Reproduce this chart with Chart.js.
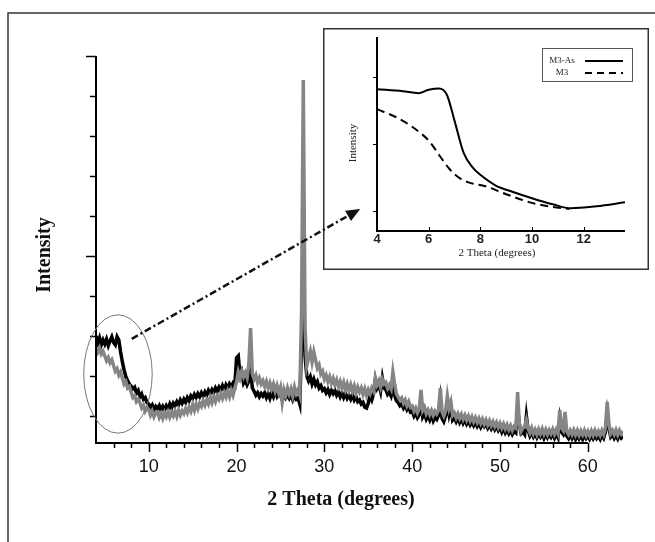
<!DOCTYPE html>
<html>
<head>
<meta charset="utf-8">
<script src="https://cdn.jsdelivr.net/npm/chart.js@4.4.1/dist/chart.umd.min.js"></script>
<style>
  body { margin: 0; background: #fff; }
  #wrap { position: relative; width: 655px; height: 542px; }
  #mainChart { position: absolute; left: 0; top: 0; }
  #insetChart { position: absolute; left: 323px; top: 28px; background: #fff; }
  #overlay { position: absolute; left: 0; top: 0; pointer-events: none; }
</style>
</head>
<body>
<div id="wrap">
  <canvas id="mainChart" width="655" height="542"></canvas>
  <canvas id="insetChart" width="326" height="242"></canvas>
  <canvas id="overlay" width="655" height="542"></canvas>
</div>
<script>
'use strict';

// scan goes 4 -> 64 deg, one reading every 0.2 deg
var thetaStart = 4, thetaStep = 0.2;

// grey trace (M3)
var m3 = [
  1.72, 1.60, 1.70, 1.55, 1.62,   1.50, 1.38, 1.46, 1.33, 1.40,
  1.26, 1.12, 1.18, 1.02, 1.10,   0.95, 0.80, 0.86, 0.70, 0.74,
  0.60, 0.46, 0.50, 0.36, 0.42,   0.33, 0.20, 0.27, 0.12, 0.20,
  0.16, 0.02, 0.12, -0.02, 0.08,  0.10, -0.04, 0.06, -0.06, 0.08,
  -0.02, 0.10, -0.03, 0.09, 0.00, 0.12, -0.01, 0.14, 0.02, 0.13,
  0.06, 0.18, 0.08, 0.22, 0.12,   0.28, 0.14, 0.30, 0.18, 0.32,
  0.24, 0.38, 0.27, 0.40, 0.30,   0.46, 0.33, 0.48, 0.36, 0.50,
  0.42, 0.56, 0.44, 0.58, 0.47,   0.62, 0.48, 0.64, 0.52, 0.70,
  0.85, 1.10, 0.95, 1.12, 0.98,   1.08, 0.96, 1.30, 2.20, 1.05,
  0.92, 1.02, 0.84, 0.95, 0.80,   0.88, 0.74, 0.86, 0.70, 0.83,
  0.68, 0.80, 0.62, 0.76, 0.58,   0.72, 0.35, 0.66, 0.52, 0.70,
  0.55, 0.68, 0.50, 0.72, 0.56,   0.66, 0.52, 2.60, 8.40, 2.20,
  1.25, 1.45, 1.62, 1.35, 1.60,   1.40, 1.20, 1.28, 1.05, 1.12,
  0.92, 1.02, 0.86, 0.98, 0.82,   0.94, 0.78, 0.90, 0.74, 0.86,
  0.70, 0.84, 0.66, 0.80, 0.64,   0.78, 0.62, 0.75, 0.58, 0.72,
  0.60, 0.70, 0.54, 0.68, 0.52,   0.66, 0.56, 0.70, 0.62, 0.95,
  0.78, 0.88, 0.72, 0.92, 0.80,   0.84, 0.70, 0.78, 0.68, 1.10,
  0.80, 0.55, 0.48, 0.40, 0.45,   0.32, 0.40, 0.26, 0.36, 0.22,
  0.25, 0.12, 0.20, 0.08, 0.18,   0.65, 0.14, 0.22, 0.06, 0.15,
  0.04, 0.14, 0.02, 0.12, 0.05,   0.14, 0.70, 0.10, 0.00, 0.12,
  0.50, 0.20, 0.35, 0.02, 0.08,   -0.04, 0.06, -0.06, 0.04, -0.08,
  0.02, -0.10, 0.00, -0.12, -0.02, -0.14, -0.04, -0.16, -0.06, -0.18,
  -0.08, -0.20, -0.10, -0.22, -0.12, -0.24, -0.14, -0.26, -0.16, -0.28,
  -0.18, -0.30, -0.20, -0.32, -0.22, -0.34, -0.24, -0.36, -0.26, -0.30,
  0.60, -0.20, -0.38, -0.30, -0.28, -0.10, -0.32, -0.42, -0.30, -0.44,
  -0.34, -0.46, -0.33, -0.44, -0.32, -0.45, -0.34, -0.46, -0.35, -0.44,
  -0.33, -0.45, -0.34, -0.44, 0.15,  -0.30, -0.36, 0.10, -0.38, -0.46,
  -0.36, -0.46, -0.35, -0.47, -0.36, -0.48, -0.37, -0.47, -0.36, -0.48,
  -0.38, -0.49, -0.37, -0.48, -0.36, -0.47, -0.38, -0.48, -0.36, -0.46,
  -0.30, 0.35, -0.20, -0.44, -0.36, -0.46, -0.35, -0.47, -0.36, -0.45,
  -0.38
];

// black trace (M3-As)
var m3As = [
  2.00, 1.82, 1.95, 1.78, 1.90,   1.80, 1.92, 1.76, 1.88, 1.98,
  1.84, 1.78, 1.98, 1.90, 1.60,   1.35, 1.15, 0.98, 0.88, 0.80,
  0.74, 0.68, 0.72, 0.58, 0.64,   0.48, 0.55, 0.42, 0.46, 0.34,
  0.30, 0.22, 0.28, 0.16, 0.24,   0.18, 0.26, 0.14, 0.24, 0.16,
  0.26, 0.18, 0.30, 0.20, 0.32,   0.26, 0.36, 0.28, 0.40, 0.32,
  0.42, 0.34, 0.46, 0.38, 0.50,   0.44, 0.54, 0.46, 0.56, 0.48,
  0.58, 0.50, 0.60, 0.52, 0.64,   0.56, 0.66, 0.58, 0.70, 0.62,
  0.72, 0.64, 0.76, 0.66, 0.78,   0.70, 0.80, 0.72, 0.82, 0.76,
  1.45, 1.50, 1.00, 1.10, 0.82,   0.90, 0.78, 0.88, 1.15, 0.70,
  0.62, 0.52, 0.58, 0.48, 0.56,   0.50, 0.58, 0.46, 0.56, 0.44,
  0.58, 0.48, 0.62, 0.50, 0.60,   0.52, 0.40, 0.55, 0.45, 0.52,
  0.44, 0.52, 0.40, 0.50, 0.42,   0.46, 0.30, 1.80, 3.00, 1.50,
  1.00, 0.88, 0.98, 0.80, 0.92,   0.78, 0.86, 0.70, 0.76, 0.64,
  0.68, 0.58, 0.66, 0.54, 0.64,   0.56, 0.64, 0.52, 0.60, 0.48,
  0.58, 0.46, 0.56, 0.44, 0.52,   0.42, 0.52, 0.40, 0.48, 0.36,
  0.40, 0.30, 0.34, 0.22, 0.20,   0.32, 0.50, 0.40, 0.55, 0.90,
  0.70, 0.80, 0.62, 0.95, 0.70,   0.66, 0.54, 0.60, 0.50, 0.70,
  0.52, 0.38, 0.34, 0.26, 0.30,   0.20, 0.28, 0.16, 0.24, 0.10,
  0.12, 0.00, 0.08, -0.04, 0.04,  0.45, -0.02, 0.06, -0.08, 0.00,
  -0.10, 0.02, -0.12, -0.02, -0.08, 0.02, 0.40, -0.06, -0.14, 0.00,
  0.35, 0.05, 0.25, -0.10, -0.04, -0.14, -0.04, -0.16, -0.06, -0.18,
  -0.10, -0.20, -0.12, -0.22, -0.14, -0.24, -0.16, -0.26, -0.18, -0.28,
  -0.18, -0.26, -0.20, -0.30, -0.22, -0.32, -0.24, -0.34, -0.26, -0.36,
  -0.28, -0.40, -0.30, -0.42, -0.34, -0.44, -0.36, -0.46, -0.38, -0.42,
  0.20, -0.20, -0.44, -0.40, -0.46, 0.00, -0.36, -0.50, -0.42, -0.52,
  -0.44, -0.54, -0.45, -0.52, -0.43, -0.55, -0.44, -0.54, -0.46, -0.53,
  -0.44, -0.55, -0.45, -0.54, -0.10, -0.40, -0.46, -0.30, -0.50, -0.56,
  -0.46, -0.56, -0.47, -0.58, -0.48, -0.57, -0.49, -0.58, -0.48, -0.56,
  -0.50, -0.58, -0.49, -0.57, -0.48, -0.56, -0.50, -0.58, -0.47, -0.55,
  -0.40, 0.05, -0.30, -0.52, -0.46, -0.56, -0.48, -0.57, -0.47, -0.55,
  -0.50
];

var xTickLabels = [10, 20, 30, 40, 50, 60];
var xMinorTicks = [6, 8, 12, 14, 16, 18, 22, 24, 26, 28, 32, 34, 36, 38, 42, 44, 46, 48, 52, 54, 56, 58];
var yMinorTicks = [0, 1, 2, 3, 5, 6, 7, 8];
var yMajorTicks = [4, 9];

// inset: low angle zoom
var insetThetaAs = [4.0, 5.0, 5.6, 6.0, 6.4, 6.7, 7.0, 7.35, 7.7, 8.0, 8.6, 9.3, 10.0, 10.8, 11.5, 12.5, 13.6];
var insetAs      = [2.82, 2.79, 2.76, 2.81, 2.83, 2.74, 2.35, 1.87, 1.65, 1.54, 1.38, 1.28, 1.19, 1.10, 1.04, 1.07, 1.13];
var insetThetaM3 = [4.0, 4.8, 5.7, 6.05, 6.45, 6.8, 7.2, 7.6, 8.2, 9.0, 10.0, 10.8, 11.45];
var insetM3      = [2.52, 2.39, 2.16, 2.03, 1.81, 1.63, 1.49, 1.42, 1.37, 1.25, 1.12, 1.06, 1.03];
var insetXTicks = [4, 6, 8, 10, 12];
var insetYTicks = [1, 2, 3];

var serif = '"Liberation Serif", "Times New Roman", serif';
var sans = '"Liberation Sans", Arial, sans-serif';

function toPoints(xs, ys) {
    return ys.map(function(y, i) { return {x: xs[i], y: y}; });
}

var thetas = m3.map(function(v, i) { return +(thetaStart + i * thetaStep).toFixed(1); });

var mainDecor = {
    id: 'mainDecor',
    afterDraw: function(chart) {
        var ctx = chart.ctx, xs = chart.scales.x, ys = chart.scales.y;
        var area = chart.chartArea;
        ctx.save();
        // page frame
        ctx.strokeStyle = '#333';
        ctx.lineWidth = 1.5;
        ctx.beginPath();
        ctx.moveTo(8, 542); ctx.lineTo(8, 13); ctx.lineTo(655, 13);
        ctx.stroke();

        // axes
        ctx.strokeStyle = '#000';
        ctx.lineWidth = 2;
        var x0 = area.left, y0 = area.bottom;
        var xEnd = xs.getPixelForValue(60);
        ctx.beginPath();
        ctx.moveTo(x0, area.top); ctx.lineTo(x0, y0); ctx.lineTo(xEnd, y0);
        ctx.stroke();

        ctx.lineWidth = 1.5;
        ctx.beginPath();
        xMinorTicks.forEach(function(t) {
            var p = Math.round(xs.getPixelForValue(t)) + 0.5;
            ctx.moveTo(p, y0); ctx.lineTo(p, y0 + 5);
        });
        xTickLabels.forEach(function(t) {
            var p = Math.round(xs.getPixelForValue(t)) + 0.5;
            ctx.moveTo(p, y0); ctx.lineTo(p, y0 + 9);
        });
        yMinorTicks.forEach(function(t) {
            var p = Math.round(ys.getPixelForValue(t)) + 0.5;
            ctx.moveTo(x0, p); ctx.lineTo(x0 - 6, p);
        });
        yMajorTicks.forEach(function(t) {
            var p = Math.round(ys.getPixelForValue(t)) + 0.5;
            ctx.moveTo(x0, p); ctx.lineTo(x0 - 10, p);
        });
        ctx.stroke();

        // titles
        ctx.fillStyle = '#111';
        ctx.font = 'bold 20px ' + serif;
        ctx.textAlign = 'center';
        ctx.textBaseline = 'middle';
        ctx.fillText('2 Theta (degrees)', 341, 500);
        ctx.translate(45, 255);
        ctx.rotate(-Math.PI / 2);
        ctx.fillText('Intensity', 0, 0);
        ctx.restore();

        // circled low angle region
        ctx.save();
        var cx = xs.getPixelForValue(6.5), cy = ys.getPixelForValue(1.05);
        var rx = xs.getPixelForValue(6.5 + 3.9) - cx;
        var ry = cy - ys.getPixelForValue(1.05 + 1.48);
        ctx.strokeStyle = '#777';
        ctx.lineWidth = 1;
        ctx.beginPath();
        ctx.ellipse(cx, cy, rx, ry, 0, 0, Math.PI * 2);
        ctx.stroke();
        ctx.restore();
    }
};

var mainChart = new Chart(document.getElementById('mainChart'), {
    type: 'line',
    data: {
        datasets: [{
            label: 'M3',
            data: toPoints(thetas, m3),
            borderColor: '#858585',
            borderWidth: 3.5,
            pointRadius: 0
        }, {
            label: 'M3-As',
            data: toPoints(thetas, m3As),
            borderColor: '#000',
            borderWidth: 3.5,
            pointRadius: 0
        }]
    },
    options: {
        responsive: false,
        animation: false,
        layout: { padding: { top: 56, right: 32, left: 0, bottom: 0 } },
        plugins: { legend: { display: false }, tooltip: { enabled: false } },
        scales: {
            x: {
                type: 'linear',
                min: 4,
                max: 64,
                border: { display: false },
                grid: { display: false, drawTicks: false },
                afterBuildTicks: function(s) {
                    s.ticks = xTickLabels.map(function(v) { return {value: v}; });
                },
                afterFit: function(s) { s.height = 99; },
                ticks: {
                    autoSkip: false,
                    maxRotation: 0,
                    padding: 13,
                    color: '#111',
                    font: { family: sans, size: 18 }
                }
            },
            y: {
                min: -0.675,
                max: 9,
                border: { display: false },
                grid: { display: false, drawTicks: false },
                ticks: { display: false },
                afterFit: function(s) { s.width = 96; }
            }
        }
    },
    plugins: [mainDecor]
});

var insetDecor = {
    id: 'insetDecor',
    afterDraw: function(chart) {
        var ctx = chart.ctx, xs = chart.scales.x, ys = chart.scales.y;
        var area = chart.chartArea;
        ctx.save();
        ctx.strokeStyle = '#333';
        ctx.lineWidth = 1.5;
        ctx.strokeRect(0.75, 0.75, chart.width - 1.5, chart.height - 1.5);

        ctx.strokeStyle = '#000';
        ctx.lineWidth = 2;
        ctx.beginPath();
        ctx.moveTo(area.left, area.top); ctx.lineTo(area.left, area.bottom); ctx.lineTo(area.right, area.bottom);
        ctx.stroke();

        ctx.lineWidth = 1;
        ctx.beginPath();
        insetXTicks.forEach(function(t) {
            var p = Math.round(xs.getPixelForValue(t)) + 0.5;
            ctx.moveTo(p, area.bottom); ctx.lineTo(p, area.bottom - 4);
        });
        insetYTicks.forEach(function(t) {
            var p = Math.round(ys.getPixelForValue(t)) + 0.5;
            ctx.moveTo(area.left, p); ctx.lineTo(area.left - 4, p);
        });
        ctx.stroke();

        ctx.fillStyle = '#222';
        ctx.font = '11px ' + serif;
        ctx.textAlign = 'center';
        ctx.textBaseline = 'middle';
        ctx.fillText('2 Theta (degrees)', 174, 225);
        ctx.save();
        ctx.translate(30, 115);
        ctx.rotate(-Math.PI / 2);
        ctx.fillText('Intensity', 0, 0);
        ctx.restore();

        // legend
        ctx.strokeStyle = '#555';
        ctx.lineWidth = 1;
        ctx.strokeRect(219.5, 20.5, 90, 33);
        ctx.font = '9px ' + serif;
        ctx.fillText('M3-As', 239, 33);
        ctx.fillText('M3', 239, 45);
        ctx.strokeStyle = '#000';
        ctx.lineWidth = 2;
        ctx.beginPath();
        ctx.moveTo(262, 33); ctx.lineTo(300, 33);
        ctx.stroke();
        ctx.setLineDash([7, 5]);
        ctx.beginPath();
        ctx.moveTo(262, 45); ctx.lineTo(300, 45);
        ctx.stroke();
        ctx.restore();
    }
};

var insetChart = new Chart(document.getElementById('insetChart'), {
    type: 'line',
    data: {
        datasets: [{
            label: 'M3-As',
            data: toPoints(insetThetaAs, insetAs),
            borderColor: '#000',
            borderWidth: 2,
            pointRadius: 0,
            cubicInterpolationMode: 'monotone'
        }, {
            label: 'M3',
            data: toPoints(insetThetaM3, insetM3),
            borderColor: '#000',
            borderWidth: 2,
            borderDash: [8, 5],
            pointRadius: 0,
            cubicInterpolationMode: 'monotone'
        }]
    },
    options: {
        responsive: false,
        animation: false,
        layout: { padding: { top: 9, right: 24, left: 0, bottom: 0 } },
        plugins: { legend: { display: false }, tooltip: { enabled: false } },
        scales: {
            x: {
                type: 'linear',
                min: 4,
                max: 13.6,
                border: { display: false },
                grid: { display: false, drawTicks: false },
                afterBuildTicks: function(s) {
                    s.ticks = insetXTicks.map(function(v) { return {value: v}; });
                },
                afterFit: function(s) { s.height = 39; },
                ticks: {
                    autoSkip: false,
                    maxRotation: 0,
                    padding: 1,
                    color: '#222',
                    font: { family: sans, size: 13, weight: 'bold' }
                }
            },
            y: {
                min: 0.7,
                max: 3.6,
                border: { display: false },
                grid: { display: false, drawTicks: false },
                ticks: { display: false },
                afterFit: function(s) { s.width = 54; }
            }
        }
    },
    plugins: [insetDecor]
});

// dash-dot arrow from the circled region into the inset
(function drawArrow() {
    var ctx = document.getElementById('overlay').getContext('2d');
    var sx = mainChart.scales.x.getPixelForValue(8.07);
    var sy = mainChart.scales.y.getPixelForValue(1.93);
    var ex = 323 + insetChart.scales.x.getPixelForValue(3.35);
    var ey = 28 + insetChart.scales.y.getPixelForValue(1.03);
    var ang = Math.atan2(ey - sy, ex - sx);
    var head = 14, half = 6;
    var bx = ex - head * Math.cos(ang), by = ey - head * Math.sin(ang);
    ctx.save();
    ctx.strokeStyle = '#111';
    ctx.fillStyle = '#111';
    ctx.lineWidth = 2.5;
    ctx.setLineDash([7, 3, 2, 3]);
    ctx.beginPath();
    ctx.moveTo(sx, sy); ctx.lineTo(bx, by);
    ctx.stroke();
    ctx.setLineDash([]);
    ctx.beginPath();
    ctx.moveTo(ex, ey);
    ctx.lineTo(bx + half * Math.sin(ang), by - half * Math.cos(ang));
    ctx.lineTo(bx - half * Math.sin(ang), by + half * Math.cos(ang));
    ctx.closePath();
    ctx.fill();
    ctx.restore();
})();
</script>
</body>
</html>
